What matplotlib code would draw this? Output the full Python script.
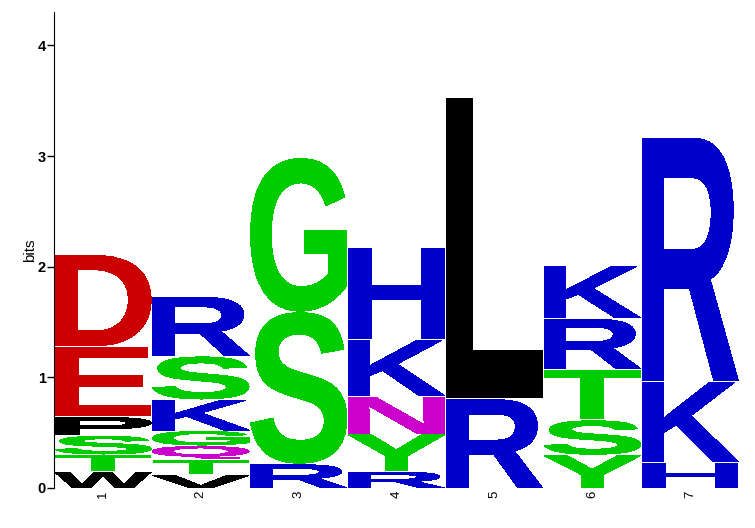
import matplotlib
matplotlib.use("Agg")
import matplotlib.pyplot as plt
from matplotlib.textpath import TextPath
from matplotlib.font_manager import FontProperties
from matplotlib.patches import PathPatch
from matplotlib.transforms import Affine2D

plt.rcParams["font.family"] = ["Liberation Sans", "DejaVu Sans"]

# Stacks, bottom to top: letters and their heights in bits
positions = [1, 2, 3, 4, 5, 6, 7]
letters = [
    ["W", "T", "S", "P", "E", "D"],
    ["V", "T", "Q", "G", "K", "S", "R"],
    ["R", "S", "G"],
    ["R", "Y", "N", "K", "H"],
    ["R", "L"],
    ["Y", "S", "T", "R", "K"],
    ["H", "K", "R"],
]
heights = [
    [0.156, 0.151, 0.172, 0.171, 0.638, 0.828],
    [0.126, 0.136, 0.126, 0.136, 0.280, 0.393, 0.538],
    [0.223, 1.375, 1.392],
    [0.156, 0.338, 0.340, 0.509, 0.836],
    [0.810, 2.723],
    [0.304, 0.316, 0.460, 0.458, 0.476],
    [0.238, 0.731, 2.203],
]

# chemistry colour scheme
colors = {}
for c in "DE":
    colors[c] = "#cc0000"
for c in "KRH":
    colors[c] = "#0000cc"
for c in "GSTYC":
    colors[c] = "#00cc00"
for c in "QN":
    colors[c] = "#cc00cc"
for c in "AVLIPWFM":
    colors[c] = "#000000"

font = FontProperties(family="Liberation Sans", weight="bold")


def draw_letter(ax, ch, x, y0, h, color, width=0.985):
    # stretch the glyph outline so it fills the box exactly
    tp = TextPath((0, 0), ch, size=1, prop=font)
    bb = tp.get_extents()
    t = (Affine2D().translate(-bb.x0, -bb.y0)
         .scale(width / bb.width, h / bb.height)
         .translate(x - width / 2, y0))
    ax.add_patch(PathPatch(t.transform_path(tp), fc=color, ec="none",
                           antialiased=False))


fig = plt.figure(figsize=(7.55, 5.28), dpi=100)
ax = fig.add_axes([0.0715, 0.0758, 0.9075, 0.901])

gap = 0.012
for x, lets, hs in zip(positions, letters, heights):
    bottom = 0.0
    for ch, h in zip(lets, hs):
        draw_letter(ax, ch, x, bottom, h - gap, colors[ch])
        bottom += h

ax.set_xlim(0.5, 7.5)
ax.set_ylim(0, 4.3)
ax.set_yticks([0, 1, 2, 3, 4])
ax.set_yticklabels(["0", "1", "2", "3", "4"], fontsize=10.5, fontweight="bold")
ax.set_xticks(positions)
ax.set_xticklabels([str(p) for p in positions], rotation=90, fontsize=9.5)
ax.tick_params(axis="x", length=0, pad=2)
ax.tick_params(axis="y", length=5, width=1, pad=1)
ax.set_ylabel("bits", fontsize=11, labelpad=0)

for side in ["top", "right", "bottom"]:
    ax.spines[side].set_visible(False)

fig.savefig("out.png", dpi=100)
